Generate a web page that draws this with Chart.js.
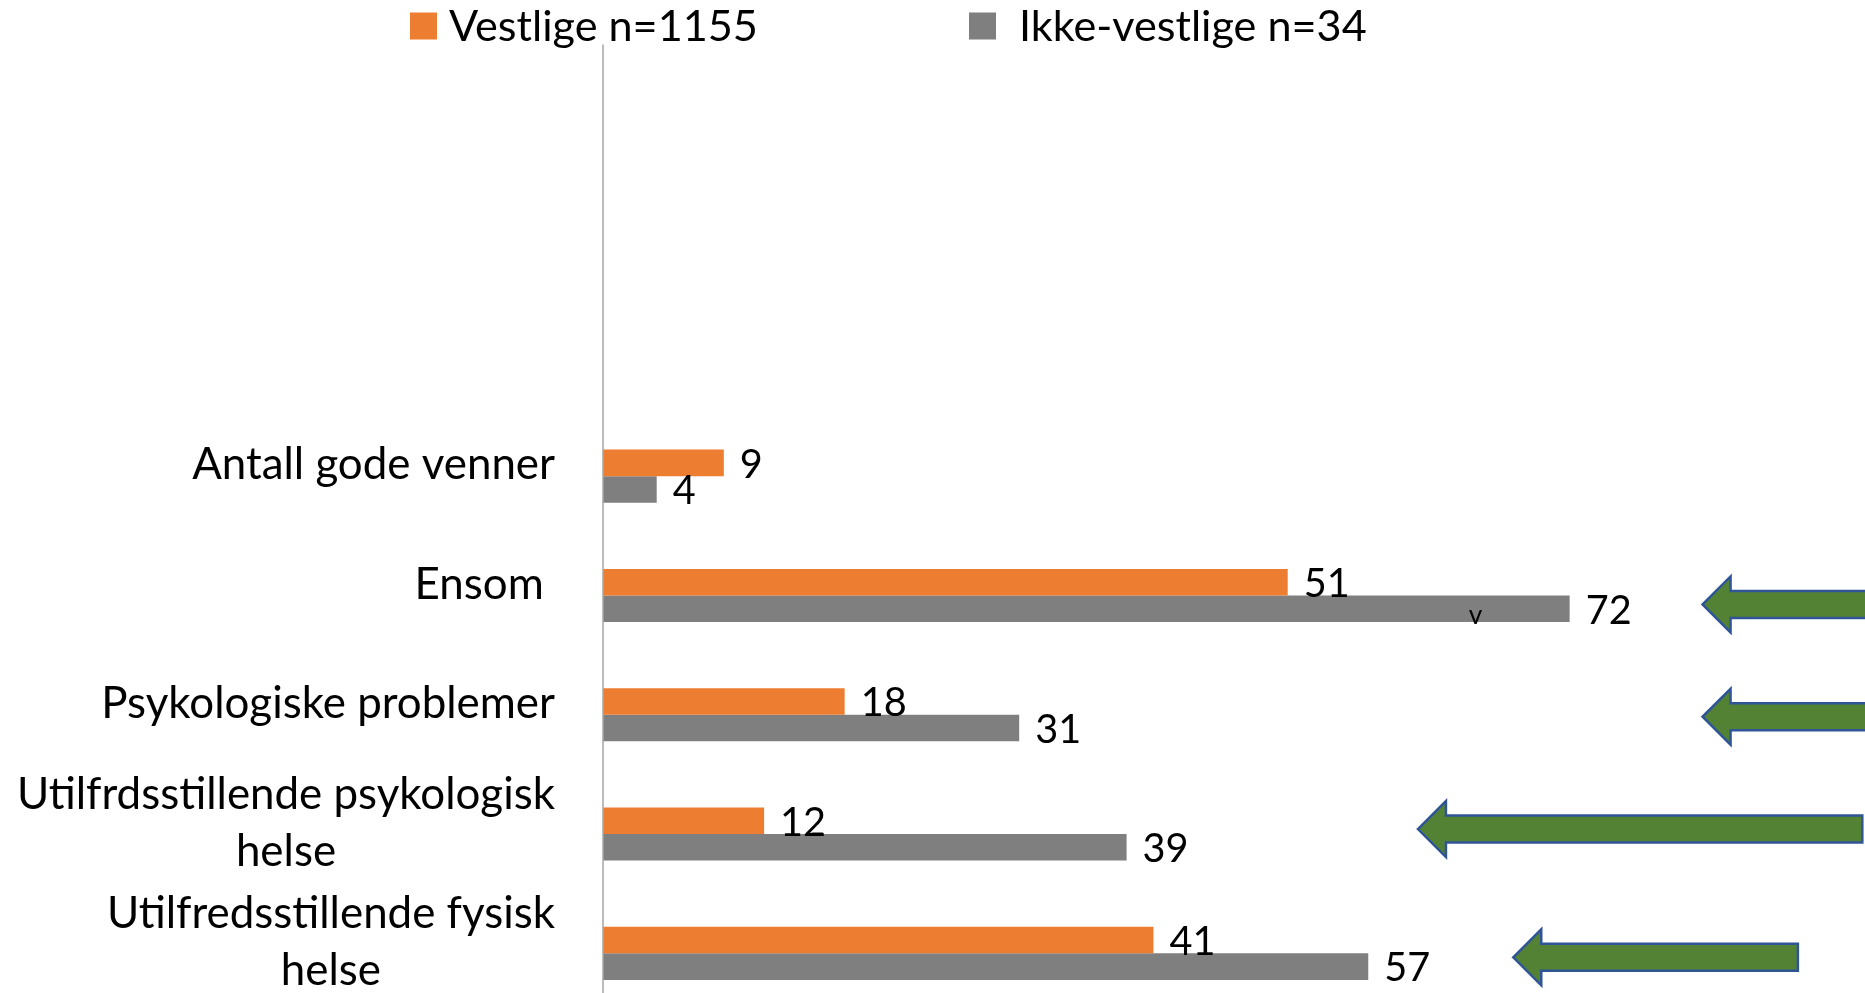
<!DOCTYPE html>
<html>
<head>
<meta charset="utf-8">
<script src="https://cdn.jsdelivr.net/npm/chart.js@4/dist/chart.umd.min.js"></script>
<style>
  html, body { margin: 0; padding: 0; background: #ffffff; overflow: hidden; }
  #wrap { position: relative; width: 1865px; height: 1013px; }
</style>
</head>
<body>
<div id="wrap"><canvas id="c"></canvas></div>
<script>
// ---------- data ----------
const categories = ['', '', '', 'Antall gode venner', 'Ensom ', 'Psykologiske problemer',
  ['Utilfrdsstillende psykologisk', 'helse'], ['Utilfredsstillende fysisk', 'helse']];
const seriesNames = ['Vestlige n=1155', 'Ikke-vestlige n=34'];
const vestlige     = [null, null, null, 9, 51, 18, 12, 41];
const ikkeVestlige = [null, null, null, 4, 72, 31, 39, 57];
// annotation arrows: category index, value at arrow tip, value at arrow tail
const arrowCategory = [4, 5, 6, 7];
const arrowTip      = [81.9, 81.9, 60.7, 67.8];
const arrowTail     = [100, 100, 93.8, 89];
// stray note in the original slide
const noteCategory = 4, noteValue = 65, noteText = 'v';

const FAMILY = 'Lato, "Open Sans", sans-serif';
function fit(text, target) {
  const c = document.createElement('canvas').getContext('2d');
  c.font = '100px ' + FAMILY;
  return 100 * target / c.measureText(text).width;
}
const catSize = fit('Antall gode venner', 363);
const legSize = fit('Vestlige n=1155', 309);
const valSize = fit('72', 46);
const noteSize = catSize * 0.6;

const overlay = {
  id: 'overlay',
  afterDatasetsDraw(chart, args, o) {
    const ctx = chart.ctx, xs = chart.scales.x, ys = chart.scales.y, a = chart.chartArea;
    ctx.save();
    // axis line (extends slightly above plot like original)
    ctx.strokeStyle = '#A6A6A6';
    ctx.lineWidth = 1.5;
    ctx.beginPath();
    ctx.moveTo(a.left, a.top - o.axisExtend);
    ctx.lineTo(a.left, a.bottom);
    ctx.stroke();

    // value labels
    ctx.fillStyle = '#000';
    ctx.textAlign = 'left';
    ctx.textBaseline = 'middle';
    ctx.font = valSize + 'px ' + FAMILY;
    chart.data.datasets.forEach((ds, di) => {
      chart.getDatasetMeta(di).data.forEach((bar, i) => {
        const v = ds.data[i];
        if (v == null) return;
        ctx.fillText(String(v), bar.x + o.valueGap, bar.y + o.valueDy);
      });
    });

    // stray note
    const gBar = chart.getDatasetMeta(1).data[noteCategory];
    ctx.font = noteSize + 'px ' + FAMILY;
    ctx.textAlign = 'center';
    ctx.fillText(noteText, xs.getPixelForValue(noteValue), gBar.y + o.noteDy);

    // category labels (block right-aligned, lines centred within block)
    ctx.font = catSize + 'px ' + FAMILY;
    ctx.textAlign = 'center';
    chart.data.labels.forEach((lab, i) => {
      const lines = Array.isArray(lab) ? lab : [lab];
      if (!lines.join('')) return;
      const w = Math.max(...lines.map(l => ctx.measureText(l).width));
      const cx = a.left - o.labelGap - w / 2;
      const cy = ys.getPixelForValue(i) + o.labelDy;
      const top = cy - (lines.length - 1) * o.lineHeight / 2;
      lines.forEach((l, k) => ctx.fillText(l, cx, top + k * o.lineHeight));
    });

    // arrows
    ctx.fillStyle = '#548235';
    ctx.strokeStyle = '#2F5597';
    ctx.lineWidth = 2.5;
    ctx.lineJoin = 'miter';
    arrowCategory.forEach((cat, k) => {
      const tx = xs.getPixelForValue(arrowTip[k]);
      const ex = xs.getPixelForValue(arrowTail[k]);
      const cy = ys.getPixelForValue(cat) + o.arrowDy[k];
      const hl = o.headLen, hh = o.headHalf, sh = o.shaftHalf;
      ctx.beginPath();
      ctx.moveTo(tx, cy);
      ctx.lineTo(tx + hl, cy - hh);
      ctx.lineTo(tx + hl, cy - sh);
      ctx.lineTo(ex, cy - sh);
      ctx.lineTo(ex, cy + sh);
      ctx.lineTo(tx + hl, cy + sh);
      ctx.lineTo(tx + hl, cy + hh);
      ctx.closePath();
      ctx.fill();
      ctx.stroke();
    });

    // legend
    ctx.font = legSize + 'px ' + FAMILY;
    ctx.textAlign = 'left';
    ctx.textBaseline = 'middle';
    chart.data.datasets.forEach((ds, di) => {
      const bx = o.legendX[di];
      ctx.fillStyle = ds.backgroundColor;
      ctx.fillRect(bx, o.legendY - o.legendBox / 2, o.legendBox, o.legendBox);
      ctx.fillStyle = '#000';
      ctx.fillText(ds.label, bx + o.legendTextGap[di], o.legendY + 1);
    });
    ctx.restore();
  }
};

new Chart(document.getElementById('c'), {
  type: 'bar',
  data: {
    labels: categories,
    datasets: [
      { label: seriesNames[0], data: vestlige, backgroundColor: '#ED7D31' },
      { label: seriesNames[1], data: ikkeVestlige, backgroundColor: '#7F7F7F' }
    ]
  },
  options: {
    indexAxis: 'y',
    responsive: true,
    maintainAspectRatio: false,
    devicePixelRatio: 1,
    animation: false,
    layout: { padding: { top: 58.6, right: 0, bottom: 0, left: 0 } },
    datasets: { bar: { categoryPercentage: 0.445, barPercentage: 1.0 } },
    scales: {
      x: { type: 'linear', min: 0, max: 94, display: false },
      y: {
        type: 'category',
        grid: { display: false },
        border: { display: false },
        ticks: { display: false },
        afterFit: s => { s.width = 603; }
      }
    },
    plugins: {
      legend: { display: false },
      tooltip: { enabled: false },
      overlay: {
        axisExtend: 14,
        valueGap: 16, valueDy: 2,
        noteDy: 7,
        labelGap: 48, labelDy: -11, lineHeight: 57,
        arrowDy: [9, 2, -5, 4],
        headLen: 28, headHalf: 28, shaftHalf: 13.5,
        legendX: [410, 969], legendY: 26, legendBox: 27, legendTextGap: [39, 50]
      }
    }
  },
  plugins: [overlay]
});
</script>
</body>
</html>
